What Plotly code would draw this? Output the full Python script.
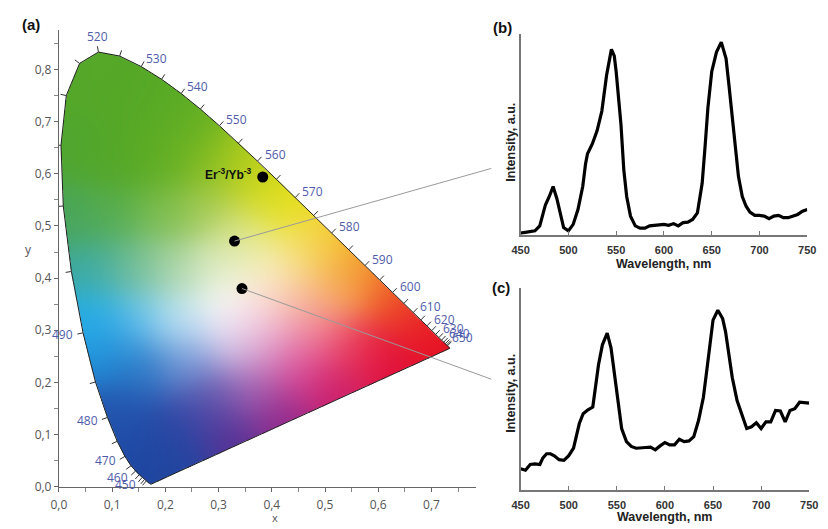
import base64
import struct
import zlib

import numpy as np
import plotly.graph_objects as go

# ---------------- data ----------------
# CIE 1931 2-degree spectral locus (nm, x, y)
locus_nm = [380, 400, 420, 425, 430, 435, 440, 445, 450, 455, 460, 465, 470, 475, 480, 485, 490, 495,
            500, 505, 510, 515, 520, 525, 530, 535, 540, 545, 550, 555, 560, 565, 570, 575, 580, 585,
            590, 595, 600, 605, 610, 615, 620, 625, 630, 635, 640, 645, 650, 655, 660, 670, 680, 700]
locus_x = [0.1741, 0.1733, 0.1714, 0.1703, 0.1689, 0.1669, 0.1644, 0.1611, 0.1566, 0.1510, 0.1440, 0.1355,
           0.1241, 0.1096, 0.0913, 0.0687, 0.0454, 0.0235, 0.0082, 0.0039, 0.0139, 0.0389, 0.0743, 0.1142,
           0.1547, 0.1929, 0.2296, 0.2658, 0.3016, 0.3373, 0.3731, 0.4087, 0.4441, 0.4788, 0.5125, 0.5448,
           0.5752, 0.6029, 0.6270, 0.6482, 0.6658, 0.6801, 0.6915, 0.7006, 0.7079, 0.7140, 0.7190, 0.7230,
           0.7260, 0.7283, 0.7300, 0.7320, 0.7334, 0.7347]
locus_y = [0.0050, 0.0048, 0.0051, 0.0058, 0.0069, 0.0086, 0.0109, 0.0138, 0.0177, 0.0227, 0.0297, 0.0399,
           0.0578, 0.0868, 0.1327, 0.2007, 0.2950, 0.4127, 0.5384, 0.6548, 0.7502, 0.8120, 0.8338, 0.8262,
           0.8059, 0.7816, 0.7543, 0.7243, 0.6923, 0.6589, 0.6245, 0.5896, 0.5547, 0.5202, 0.4866, 0.4544,
           0.4242, 0.3965, 0.3725, 0.3514, 0.3340, 0.3197, 0.3083, 0.2993, 0.2920, 0.2859, 0.2809, 0.2770,
           0.2740, 0.2717, 0.2700, 0.2680, 0.2666, 0.2653]
tick_nm_min, tick_nm_max = 440, 660
label_nm = [440, 450, 460, 470, 480, 490, 500, 510, 520, 530, 540, 550, 560, 570, 580, 590, 600,
            610, 620, 630, 640, 650]

# chromaticity points of samples
pt_x = [0.383, 0.330, 0.344]
pt_y = [0.594, 0.471, 0.380]
pt_label = "Er<sup>-3</sup>/Yb<sup>-3</sup>"

# spectrum (b)
b_wl = [450, 460, 465, 470, 473, 476, 480, 484, 488, 492, 495, 500, 505, 510, 515, 518, 520, 525, 530,
        535, 540, 545, 548, 550, 555, 558, 561, 565, 570, 575, 580, 585, 590, 600, 605, 610, 615, 620,
        625, 630, 635, 638, 640, 643, 646, 650, 655, 660, 665, 668, 671, 675, 678, 682, 686, 690, 695,
        700, 705, 710, 715, 720, 725, 730, 735, 740, 745, 750]
b_int = [0.0, 0.7, 1.2, 3.8, 8.9, 14.9, 19.2, 24.4, 17.9, 9.3, 2.9, 1.2, 4.6, 12.4, 24.4, 36.4, 41.6,
         46.7, 53.6, 63.9, 82.8, 96.2, 92.8, 84.5, 57.0, 33.0, 19.2, 8.9, 3.8, 2.6, 2.6, 3.8, 4.1, 4.6,
         4.1, 5.0, 3.8, 5.5, 5.8, 7.2, 10.6, 19.2, 26.1, 45.0, 65.6, 84.5, 94.8, 100.0, 91.4, 77.7, 62.2,
         43.3, 29.6, 19.2, 14.1, 11.0, 9.3, 9.3, 8.9, 7.6, 8.9, 9.3, 8.1, 8.1, 8.9, 9.8, 11.5, 12.4]

# spectrum (c)
c_wl = [450, 455, 460, 465, 470, 473, 477, 481, 485, 490, 495, 500, 505, 508, 511, 515, 520, 525, 528,
        531, 535, 540, 544, 548, 552, 555, 560, 565, 570, 575, 580, 585, 590, 595, 600, 605, 610, 615,
        620, 625, 630, 635, 640, 643, 646, 650, 655, 660, 663, 667, 670, 675, 680, 685, 690, 695, 700,
        705, 710, 715, 720, 725, 730, 735, 740, 745, 750]
c_int = [11.4, 10.6, 13.8, 14.1, 13.8, 17.4, 19.8, 19.8, 18.7, 16.5, 16.1, 18.7, 22.9, 29.4, 36.7, 42.2,
         44.4, 45.9, 56.9, 69.7, 80.7, 87.2, 78.9, 62.4, 45.9, 33.9, 26.6, 23.9, 22.9, 22.9, 23.3, 23.5,
         22.0, 24.2, 26.1, 24.8, 24.8, 27.9, 26.6, 27.0, 29.4, 38.5, 51.4, 64.2, 78.9, 94.5, 100.0, 95.4,
         88.1, 73.4, 62.4, 49.5, 41.3, 33.9, 34.9, 37.1, 33.9, 37.6, 37.6, 44.0, 43.7, 37.6, 44.0, 45.0,
         48.6, 48.3, 48.1]

wl_ticks = [450, 500, 550, 600, 650, 700, 750]
cie_ticks = [0.0, 0.1, 0.2, 0.3, 0.4, 0.5, 0.6, 0.7, 0.8]

# colour key points for the chromaticity shading (x, y, r, g, b)
shade_keys = [
    (0.05, 0.80, 85, 168, 42), (0.10, 0.75, 85, 168, 38), (0.18, 0.72, 88, 170, 38),
    (0.03, 0.65, 80, 166, 48), (0.10, 0.62, 85, 168, 38), (0.20, 0.62, 95, 173, 36),
    (0.25, 0.68, 100, 176, 36), (0.28, 0.62, 135, 190, 33), (0.34, 0.62, 178, 205, 28),
    (0.38, 0.57, 212, 218, 28), (0.43, 0.53, 234, 226, 28), (0.50, 0.47, 246, 200, 38),
    (0.56, 0.42, 243, 155, 40), (0.62, 0.37, 240, 95, 40), (0.67, 0.32, 235, 45, 40),
    (0.72, 0.27, 230, 15, 35), (0.62, 0.24, 225, 15, 60), (0.52, 0.18, 205, 30, 105),
    (0.42, 0.13, 145, 40, 140), (0.32, 0.09, 85, 50, 150), (0.22, 0.04, 35, 70, 160),
    (0.17, 0.02, 30, 70, 160), (0.14, 0.08, 30, 75, 165), (0.12, 0.14, 35, 85, 175),
    (0.22, 0.12, 45, 70, 165), (0.28, 0.17, 90, 80, 170), (0.36, 0.19, 160, 100, 180),
    (0.45, 0.22, 220, 70, 150), (0.55, 0.27, 235, 60, 90), (0.48, 0.30, 240, 130, 160),
    (0.40, 0.27, 225, 150, 200), (0.33, 0.27, 215, 200, 235), (0.24, 0.24, 120, 160, 220),
    (0.16, 0.22, 45, 115, 195), (0.10, 0.26, 30, 140, 215), (0.07, 0.32, 35, 175, 235),
    (0.15, 0.32, 110, 200, 240), (0.23, 0.32, 200, 232, 247), (0.32, 0.34, 255, 255, 255),
    (0.38, 0.33, 252, 215, 225), (0.45, 0.36, 250, 190, 160), (0.52, 0.38, 248, 175, 100),
    (0.40, 0.41, 250, 243, 200), (0.46, 0.45, 245, 230, 130), (0.30, 0.42, 225, 237, 200),
    (0.35, 0.48, 225, 232, 150), (0.28, 0.53, 170, 205, 90), (0.20, 0.52, 125, 190, 80),
    (0.22, 0.42, 175, 215, 170), (0.14, 0.42, 115, 190, 150), (0.06, 0.42, 60, 170, 165),
    (0.03, 0.52, 72, 165, 90), (0.10, 0.52, 90, 175, 80),
]

# ---------------- layout geometry ----------------
W, H = 828, 529
a_xdom = [51 / W, 477 / W]
a_ydom = [(H - 494) / H, (H - 30) / H]
a_xr = [0, 0.783]
a_yr = [0, 0.877]
b_xdom = [523 / W, 816 / W]
b_ydom = [(H - 238.3) / H, (H - 35) / H]
c_xdom = [523 / W, 818 / W]
c_ydom = [(H - 497.5) / H, (H - 292) / H]

sx = (a_xdom[1] - a_xdom[0]) * W / (a_xr[1] - a_xr[0])  # px per unit
sy = (a_ydom[1] - a_ydom[0]) * H / (a_yr[1] - a_yr[0])

# ---------------- chromaticity shading (PNG built in memory) ----------------
step = 0.002
ncols, nrows = 380, 430
gx = (np.arange(ncols) + 0.5) * step
gy = (np.arange(nrows) + 0.5) * step
GX, GY = np.meshgrid(gx, gy)
poly_x = np.array(locus_x + [locus_x[0]])
poly_y = np.array(locus_y + [locus_y[0]])
inside = np.zeros(GX.shape, dtype=bool)
for i in range(len(poly_x) - 1):
    xi, yi, xj, yj = poly_x[i], poly_y[i], poly_x[i + 1], poly_y[i + 1]
    cond = (yi > GY) != (yj > GY)
    with np.errstate(divide='ignore', invalid='ignore'):
        xint = (xj - xi) * (GY - yi) / (yj - yi + 1e-12) + xi
    inside ^= cond & (GX < xint)

sig = 0.045
num = np.zeros(GX.shape + (3,))
den = np.zeros(GX.shape)
for kx, ky, r, g, b in shade_keys:
    w = np.exp(-((GX - kx) ** 2 + (GY - ky) ** 2) / (2 * sig ** 2)) + 1e-30
    num += w[..., None] * np.array([r, g, b], dtype=float)
    den += w
rgb = num / den[..., None]
img = np.zeros(GX.shape + (4,), dtype=np.uint8)
img[..., :3] = np.clip(rgb, 0, 255).astype(np.uint8)
img[..., 3] = np.where(inside, 255, 0).astype(np.uint8)
img = img[::-1]  # top row first for PNG


def png_uri(arr):
    h, w = arr.shape[:2]
    raw = b''.join(b'\x00' + arr[r].tobytes() for r in range(h))

    def chunk(tag, data):
        c = struct.pack('>I', len(data)) + tag + data
        return c + struct.pack('>I', zlib.crc32(tag + data) & 0xffffffff)

    png = (b'\x89PNG\r\n\x1a\n' + chunk(b'IHDR', struct.pack('>IIBBBBB', w, h, 8, 6, 0, 0, 0))
           + chunk(b'IDAT', zlib.compress(raw, 9)) + chunk(b'IEND', b''))
    return 'data:image/png;base64,' + base64.b64encode(png).decode()


fig = go.Figure()

# locus outline
fig.add_trace(go.Scatter(x=locus_x + [locus_x[0]], y=locus_y + [locus_y[0]], mode='lines',
                         line=dict(color='#222', width=1), hoverinfo='skip', showlegend=False))

# wavelength ticks on locus
LX = np.array(locus_x)
LY = np.array(locus_y)
NM = np.array(locus_nm)
tx, ty, ann = [], [], []
tick_len = 6
for i in range(1, len(NM) - 1):
    nm = NM[i]
    if nm < tick_nm_min or nm > tick_nm_max or nm % 5:
        continue
    dxp = (LX[i + 1] - LX[i - 1]) * sx
    dyp = (LY[i + 1] - LY[i - 1]) * sy
    n = np.hypot(dxp, dyp)
    nx, ny = -dyp / n, dxp / n
    tx += [LX[i], LX[i] + nx * tick_len / sx, None]
    ty += [LY[i], LY[i] + ny * tick_len / sy, None]
    if nm in label_nm:
        if abs(nx) < 0.35:
            off, xa, ya = tick_len, 'center', ('bottom' if ny > 0 else 'top')
        else:
            off, xa, ya = tick_len + 3, ('left' if nx > 0 else 'right'), 'middle'
        ann.append(dict(x=LX[i] + nx * off / sx, y=LY[i] + ny * off / sy,
                        xref='x', yref='y', text=str(nm), showarrow=False, xanchor=xa, yanchor=ya,
                        borderpad=0,
                        font=dict(family='Open Sans', size=12, color='#4f5cab')))
fig.add_trace(go.Scatter(x=tx, y=ty, mode='lines', line=dict(color='#333', width=1),
                         hoverinfo='skip', showlegend=False))

# sample points
fig.add_trace(go.Scatter(x=pt_x, y=pt_y, mode='markers', marker=dict(color='black', size=11),
                         hoverinfo='skip', showlegend=False))
ann.append(dict(x=pt_x[0], y=pt_y[0], xref='x', yref='y', text='<b>' + pt_label + '</b>',
                showarrow=False, xanchor='right', yanchor='middle', xshift=-9, yshift=3,
                font=dict(family='Arial', size=12, color='#111')))


# connector lines (paper coords from data)
def to_paper(x, y):
    px = a_xdom[0] + (x - a_xr[0]) / (a_xr[1] - a_xr[0]) * (a_xdom[1] - a_xdom[0])
    py = a_ydom[0] + (y - a_yr[0]) / (a_yr[1] - a_yr[0]) * (a_ydom[1] - a_ydom[0])
    return px, py


shapes = []
ends = [(493 / W, 1 - 171 / H), (493 / W, 1 - 385 / H)]
for k, (ex, ey) in zip([1, 2], ends):
    p0 = to_paper(pt_x[k], pt_y[k])
    shapes.append(dict(type='line', xref='paper', yref='paper', x0=p0[0], y0=p0[1], x1=ex, y1=ey,
                       line=dict(color='#9a9a9a', width=1), layer='above'))

# spectra
fig.add_trace(go.Scatter(x=b_wl, y=b_int, mode='lines', line=dict(color='black', width=3.2),
                         xaxis='x2', yaxis='y2', hoverinfo='skip', showlegend=False))
fig.add_trace(go.Scatter(x=c_wl, y=c_int, mode='lines', line=dict(color='black', width=3.2),
                         xaxis='x3', yaxis='y3', hoverinfo='skip', showlegend=False))

tickfont_a = dict(family='Open Sans', size=12, color='#555')
axis_a = dict(showgrid=False, zeroline=False, showline=True, linecolor='#666', linewidth=1,
              ticks='outside', ticklen=4, tickcolor='#666', tickformat='.1f', tickvals=cie_ticks,
              minor=dict(dtick=0.05, ticks='outside', ticklen=4, tickcolor='#888'),
              tickfont=tickfont_a)
tickfont_s = dict(family='Arial', size=11, color='#333', weight='bold')
axis_sx = dict(showgrid=False, zeroline=False, showline=True, linecolor='#777', linewidth=1.5,
               ticks='inside', ticklen=4, tickcolor='#777', tickvals=wl_ticks, range=[450, 750],
               tickfont=tickfont_s, ticklabelstandoff=4)
axis_sy = dict(showgrid=False, zeroline=False, showline=True, linecolor='#777', linewidth=1.5,
               ticks='', showticklabels=False)

lab = dict(family='Arial', size=12.5, color='#222')


def pann(xpx, ypx, text, font, angle=0):
    return dict(x=xpx / W, y=1 - ypx / H, xref='paper', yref='paper', text=text, showarrow=False,
                xanchor='center', yanchor='middle', textangle=angle, font=font)


big = dict(family='Arial', size=15, color='#111')
ann += [
    pann(22, 25, '<b>(a)</b>', big),
    pann(504, 28, '<b>(b)</b>', big),
    pann(503, 292, '<b>(c)</b>', big),
    pann(272, 525, 'x', dict(family='Open Sans', size=11, color='#555')),
    pann(20, 253, 'y', dict(family='Open Sans', size=12, color='#555')),
    pann((b_xdom[0] + b_xdom[1]) / 2 * W, 268, '<b>Wavelength, nm</b>', lab),
    pann((c_xdom[0] + c_xdom[1]) / 2 * W, 525, '<b>Wavelength, nm</b>', lab),
    pann(513, 144, '<b>Intensity, a.u.</b>', lab, -90),
    pann(513, 399, '<b>Intensity, a.u.</b>', lab, -90),
]

fig.update_layout(
    width=W, height=H, margin=dict(l=0, r=0, t=0, b=0),
    paper_bgcolor='white', plot_bgcolor='rgba(0,0,0,0)',
    separators=', ', showlegend=False,
    xaxis=dict(domain=a_xdom, range=a_xr, anchor='y', ticklabelstandoff=3, **axis_a),
    yaxis=dict(domain=a_ydom, range=a_yr, anchor='x', **axis_a),
    xaxis2=dict(domain=b_xdom, anchor='y2', **axis_sx),
    yaxis2=dict(domain=b_ydom, range=[-0.8, 104], anchor='x2', **axis_sy),
    xaxis3=dict(domain=c_xdom, anchor='y3', **axis_sx),
    yaxis3=dict(domain=c_ydom, range=[-0.44, 112.7], anchor='x3', **axis_sy),
    images=[dict(source=png_uri(img), xref='x', yref='y', x=0, y=nrows * step,
                 sizex=ncols * step, sizey=nrows * step, xanchor='left', yanchor='top',
                 sizing='stretch', layer='below')],
    annotations=ann, shapes=shapes,
)

fig.write_html("out.html")
